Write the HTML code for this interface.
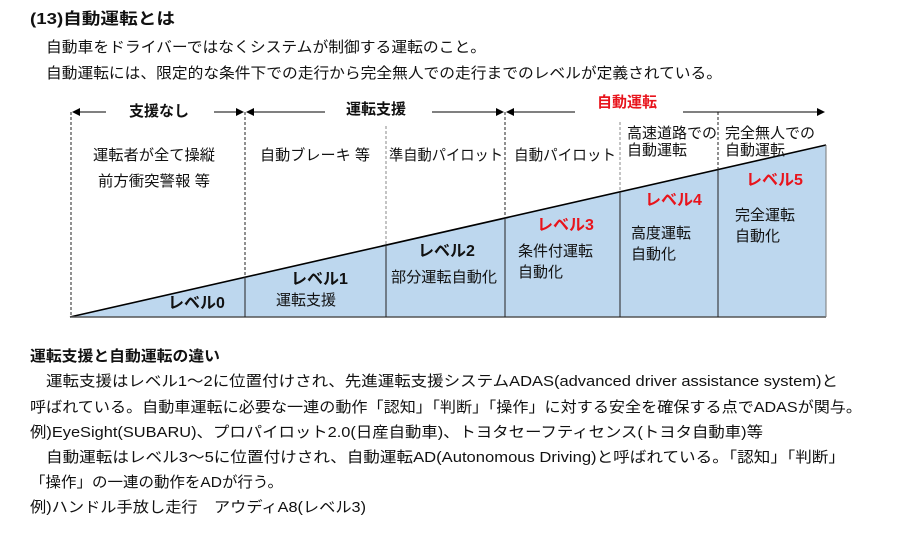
<!DOCTYPE html>
<html><head><meta charset="utf-8"><style>
html,body{margin:0;padding:0;background:#fff;width:907px;height:543px;overflow:hidden}
svg{display:block}
text{font-family:"Liberation Sans","Noto Sans CJK JP",sans-serif;fill:#111}
.b{font-weight:bold}
.r{fill:#e8141c;font-weight:bold}
</style></head><body>
<svg width="907" height="543" viewBox="0 0 907 543" xmlns="http://www.w3.org/2000/svg">
<defs><marker id="a" markerWidth="8" markerHeight="8" refX="7" refY="4" orient="auto" markerUnits="userSpaceOnUse"><path d="M0,0 L8,4 L0,8z" fill="#000"/></marker></defs>
<text x="30" y="24" font-size="16" class="b" textLength="145" lengthAdjust="spacingAndGlyphs">(13)自動運転とは</text>
<text x="46" y="52" font-size="15" textLength="440" lengthAdjust="spacingAndGlyphs">自動車をドライバーではなくシステムが制御する運転のこと。</text>
<text x="46" y="78" font-size="15" textLength="676" lengthAdjust="spacingAndGlyphs">自動運転には、限定的な条件下での走行から完全無人での走行までのレベルが定義されている。</text>
<polygon points="70,317 826,145 826,317" fill="#bdd7ee"/>
<line x1="70" y1="317" x2="826" y2="145" stroke="#000" stroke-width="1.6"/>
<line x1="70" y1="317" x2="826" y2="317" stroke="#555" stroke-width="1.5"/>
<line x1="826" y1="145" x2="826" y2="317" stroke="#777" stroke-width="1"/>
<g stroke="#222" stroke-width="1">
<line x1="245" y1="277" x2="245" y2="317"/><line x1="386" y1="245" x2="386" y2="317"/>
<line x1="505" y1="218" x2="505" y2="317"/><line x1="620" y1="192" x2="620" y2="317"/>
<line x1="718" y1="170" x2="718" y2="317"/></g>
<g stroke="#222" stroke-width="1" stroke-dasharray="3,2">
<line x1="71" y1="112" x2="71" y2="315"/><line x1="245" y1="112" x2="245" y2="277"/>
<line x1="505" y1="112" x2="505" y2="218"/><line x1="718" y1="112" x2="718" y2="170"/></g>
<g stroke="#888" stroke-width="1" stroke-dasharray="3,2">
<line x1="386" y1="126" x2="386" y2="245"/><line x1="620" y1="122" x2="620" y2="192"/></g>
<g stroke="#000" stroke-width="1">
<line x1="106" y1="112" x2="73" y2="112" marker-end="url(#a)"/>
<line x1="214" y1="112" x2="243" y2="112" marker-end="url(#a)"/>
<line x1="325" y1="112" x2="247" y2="112" marker-end="url(#a)"/>
<line x1="432" y1="112" x2="503" y2="112" marker-end="url(#a)"/>
<line x1="575" y1="112" x2="507" y2="112" marker-end="url(#a)"/>
<line x1="683" y1="112" x2="824" y2="112" marker-end="url(#a)"/>
</g>
<text x="129" y="116" font-size="15" class="b">支援なし</text>
<text x="346" y="114" font-size="15" class="b">運転支援</text>
<text x="597" y="107" font-size="15" class="r">自動運転</text>
<g font-size="15">
<text x="93" y="160" textLength="122" lengthAdjust="spacingAndGlyphs">運転者が全て操縦</text>
<text x="98" y="186" textLength="112" lengthAdjust="spacingAndGlyphs">前方衝突警報 等</text>
<text x="260" y="160" textLength="110" lengthAdjust="spacingAndGlyphs">自動ブレーキ 等</text>
<text x="389" y="160" textLength="114" lengthAdjust="spacingAndGlyphs">準自動パイロット</text>
<text x="514" y="160" textLength="102" lengthAdjust="spacingAndGlyphs">自動パイロット</text>
<text x="627" y="138" textLength="90" lengthAdjust="spacingAndGlyphs">高速道路での</text>
<text x="627" y="155">自動運転</text>
<text x="725" y="138" textLength="90" lengthAdjust="spacingAndGlyphs">完全無人での</text>
<text x="725" y="155">自動運転</text>
<text x="276" y="305">運転支援</text>
<text x="391" y="282" textLength="106" lengthAdjust="spacingAndGlyphs">部分運転自動化</text>
<text x="518" y="256">条件付運転</text>
<text x="518" y="277">自動化</text>
<text x="631" y="238">高度運転</text>
<text x="631" y="259">自動化</text>
<text x="735" y="220">完全運転</text>
<text x="735" y="241">自動化</text>
</g>
<g font-size="16">
<text x="168" y="308" class="b">レベル0</text>
<text x="291" y="284" class="b">レベル1</text>
<text x="418" y="256" class="b">レベル2</text>
<text class="r" x="537" y="230">レベル3</text>
<text class="r" x="645" y="205">レベル4</text>
<text class="r" x="746" y="185">レベル5</text>
</g>
<text x="30" y="361" font-size="15" class="b" textLength="190" lengthAdjust="spacingAndGlyphs">運転支援と自動運転の違い</text>
<g font-size="15">
<text x="46" y="386" textLength="792" lengthAdjust="spacingAndGlyphs">運転支援はレベル1～2に位置付けされ、先進運転支援システムADAS(advanced driver assistance system)と</text>
<text x="30" y="412" textLength="832" lengthAdjust="spacingAndGlyphs">呼ばれている。自動車運転に必要な一連の動作「認知」「判断」「操作」に対する安全を確保する点でADASが関与。</text>
<text x="30" y="437" textLength="733" lengthAdjust="spacingAndGlyphs">例)EyeSight(SUBARU)、プロパイロット2.0(日産自動車)、トヨタセーフティセンス(トヨタ自動車)等</text>
<text x="46" y="462" textLength="799" lengthAdjust="spacingAndGlyphs">自動運転はレベル3～5に位置付けされ、自動運転AD(Autonomous Driving)と呼ばれている。「認知」「判断」</text>
<text x="30" y="487" textLength="253" lengthAdjust="spacingAndGlyphs">「操作」の一連の動作をADが行う。</text>
<text x="30" y="512" textLength="336" lengthAdjust="spacingAndGlyphs">例)ハンドル手放し走行　アウディA8(レベル3)</text>
</g>
</svg>
</body></html>
